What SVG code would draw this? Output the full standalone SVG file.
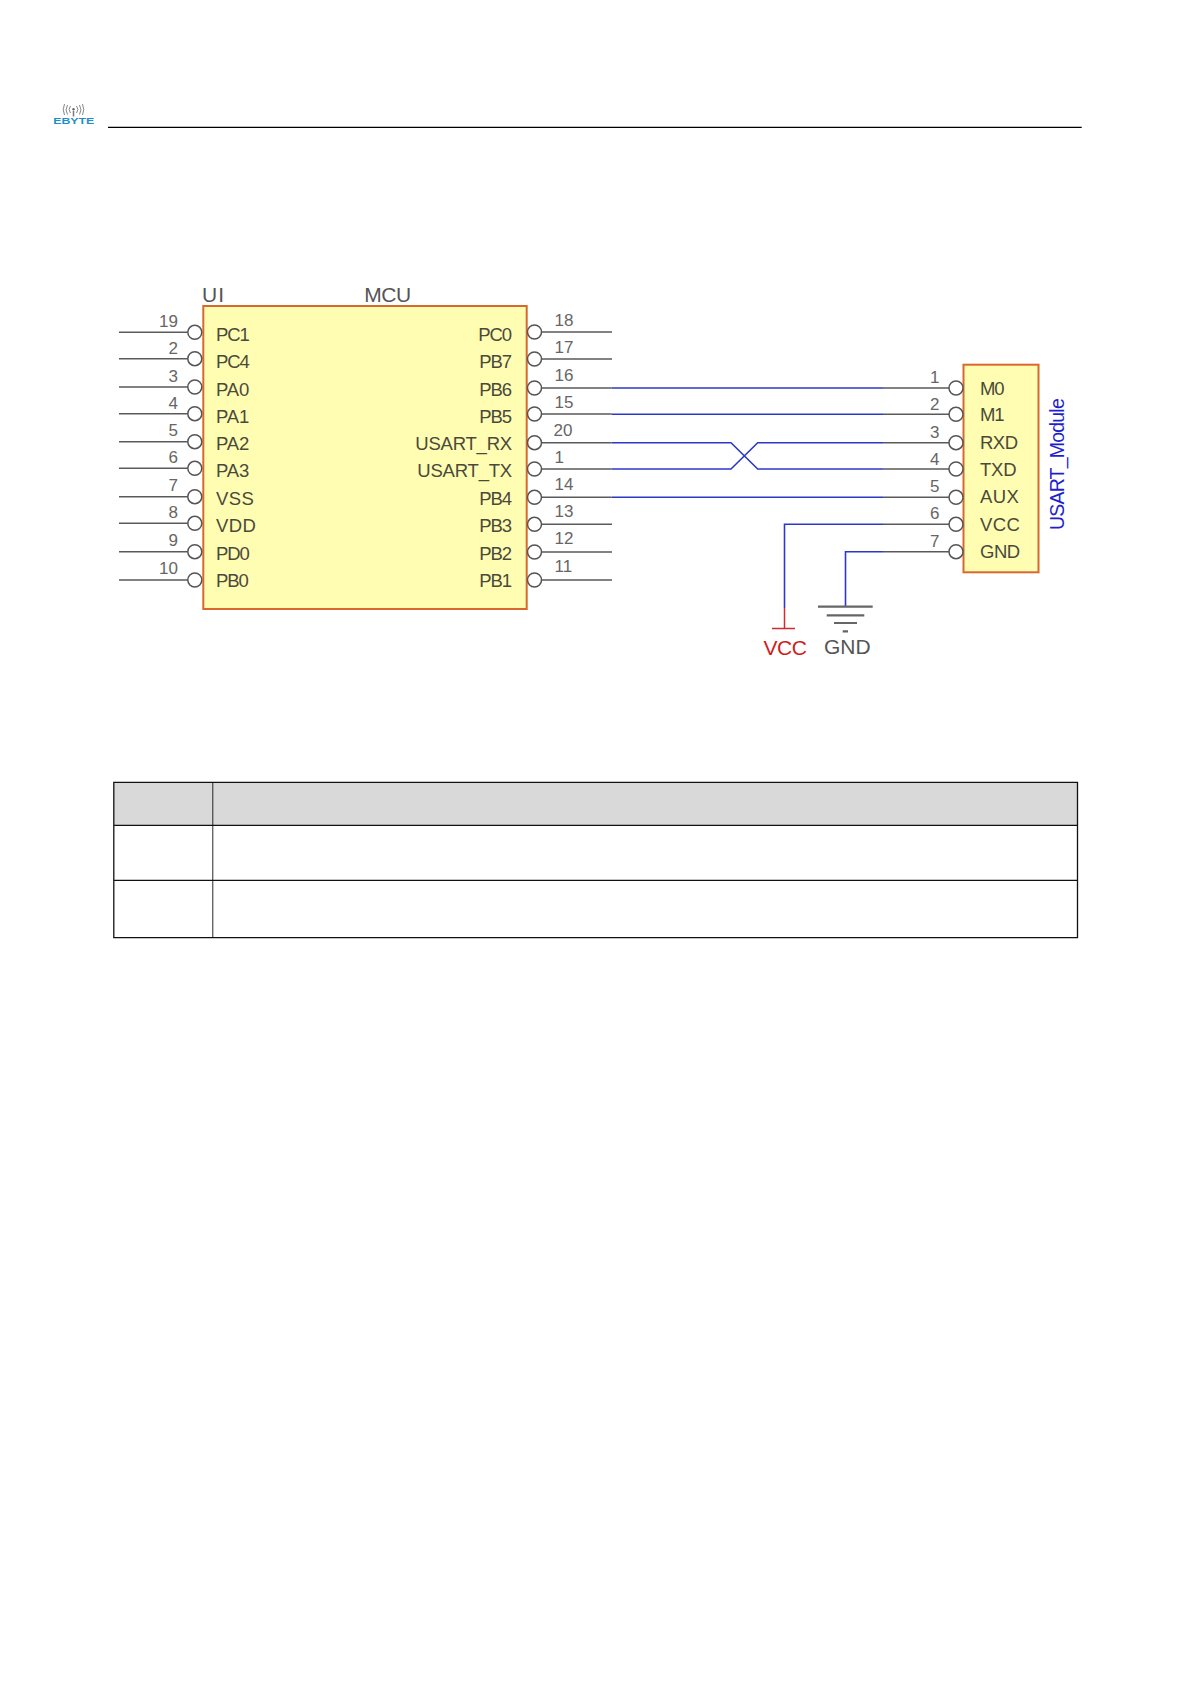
<svg xmlns="http://www.w3.org/2000/svg" width="1191" height="1684" viewBox="0 0 1191 1684">
<style>
text{font-family:"Liberation Sans",Arial,sans-serif}
.box{fill:#fffdb2;stroke:#d9682e;stroke-width:2}
.pin{fill:#fff;stroke:#555;stroke-width:1.5}
.grey{fill:none;stroke:#5a5a5a;stroke-width:1.6}
.gbar{fill:none;stroke:#666;stroke-width:2.200}
.blue{fill:none;stroke:#2c38c8;stroke-width:1.6}
.red{fill:none;stroke:#d42a2a;stroke-width:1.5}
.lab{font-size:18.500px;fill:#4a4a3c}
.labr{font-size:18.500px;fill:#4a4a3c;text-anchor:end}
.t{letter-spacing:-1.050px}
.n{letter-spacing:-.2px}
.w{letter-spacing:.4px}
.m{letter-spacing:-.5px}
.num{font-size:17px;fill:#666}
.numr{font-size:17px;fill:#666;text-anchor:end}
.title{font-size:21px;fill:#555}
.tb{fill:none;stroke:#111;stroke-width:1.300}
.tt{fill:none;stroke:#111;stroke-width:.9}
.wave{fill:none;stroke:#777;stroke-width:.9}
</style>
<rect width="1191" height="1684" fill="#fff"/>
<g id="header">
<g id="logo">
<path class="wave" d="M70.500 106a5.500 5.500 0 0 0 0 7M67.500 105a9 9 0 0 0 0 9.500M64.500 104a13 13 0 0 0 0 11M76.500 106a5.500 5.500 0 0 1 0 7M79.500 105a9 9 0 0 1 0 9.500M82.500 104a13 13 0 0 1 0 11"/>
<circle cx="73.500" cy="109.300" r="1.200" fill="#666"/>
<path d="M73.500 111v5.500" stroke="#777" stroke-width="1.500"/>
<text x="53.300" y="124.300" font-size="9.500" font-weight="700" fill="#1f8fc9" textLength="41" lengthAdjust="spacingAndGlyphs">EBYTE</text>
</g>
<path d="M108 127.400H1081.700" stroke="#000" stroke-width="1.200"/>
</g>
<g id="connectors">
<path class="grey" d="M119 332.300H188M119 358.700H188M119 387H188M119 413.700H188M119 441.700H188M119 468.300H188M119 496.700H188M119 523.300H188M119 551.700H188M119 580H188"/>
<path class="grey" d="M541 332H612M541 359H612M541 388H611.500M541 414H611.500M541 442.700H611.500M541 469H611.500M541 497.300H611.500M541 524.300H612M541 552H612M541 580H612"/>
<path class="grey" d="M883 388H949M883 414.300H949M883 442.700H949M883 469H949M883 497.300H949M883 524.300H949M883 551.700H949"/>
<path class="blue" d="M611.500 388H883M611.500 414.200H883M611.500 497.300H883"/>
<path class="blue" d="M611.500 442.700H731L757.700 469H883M611.500 469H731L757.700 442.700H883"/>
<path class="blue" d="M883 524.300H784.500V608M883 551.700H845.500V606"/>
</g>
<g id="mcu">
<rect class="box" x="203.300" y="306" width="323.400" height="303"/>
<text class="title" x="202" y="301.700" letter-spacing="1">UI</text>
<text class="title" x="364.300" y="301.700" letter-spacing="-.5">MCU</text>
<g class="pins">
<circle class="pin" cx="194.800" cy="332.300" r="7"/><circle class="pin" cx="194.800" cy="358.700" r="7"/><circle class="pin" cx="194.800" cy="387" r="7"/><circle class="pin" cx="194.800" cy="413.700" r="7"/><circle class="pin" cx="194.800" cy="441.700" r="7"/><circle class="pin" cx="194.800" cy="468.300" r="7"/><circle class="pin" cx="194.800" cy="496.700" r="7"/><circle class="pin" cx="194.800" cy="523.300" r="7"/><circle class="pin" cx="194.800" cy="551.700" r="7"/><circle class="pin" cx="194.800" cy="580" r="7"/>
<circle class="pin" cx="534.500" cy="332" r="7"/><circle class="pin" cx="534.500" cy="359" r="7"/><circle class="pin" cx="534.500" cy="388" r="7"/><circle class="pin" cx="534.500" cy="414" r="7"/><circle class="pin" cx="534.500" cy="442.700" r="7"/><circle class="pin" cx="534.500" cy="469" r="7"/><circle class="pin" cx="534.500" cy="497.300" r="7"/><circle class="pin" cx="534.500" cy="524.300" r="7"/><circle class="pin" cx="534.500" cy="552" r="7"/><circle class="pin" cx="534.500" cy="580" r="7"/>
</g>
<text class="numr" x="178" y="327">19</text><text class="numr" x="178" y="354">2</text><text class="numr" x="178" y="382">3</text><text class="numr" x="178" y="409">4</text><text class="numr" x="178" y="436">5</text><text class="numr" x="178" y="463">6</text><text class="numr" x="178" y="491">7</text><text class="numr" x="178" y="518">8</text><text class="numr" x="178" y="546">9</text><text class="numr" x="178" y="574">10</text>
<text class="num" x="554.500" y="326">18</text><text class="num" x="554.500" y="353">17</text><text class="num" x="554.500" y="381">16</text><text class="num" x="554.500" y="408">15</text><text class="num" x="553.500" y="436">20</text><text class="num" x="554.500" y="463">1</text><text class="num" x="554.500" y="490">14</text><text class="num" x="554.500" y="517">13</text><text class="num" x="554.500" y="544">12</text><text class="num" x="554.500" y="572">11</text>
<text class="lab t" x="216" y="340.700">PC1</text><text class="lab t" x="216" y="367.500">PC4</text><text class="lab n" x="216" y="396">PA0</text><text class="lab n" x="216" y="423">PA1</text><text class="lab n" x="216" y="450">PA2</text><text class="lab n" x="216" y="477">PA3</text><text class="lab w" x="216" y="505">VSS</text><text class="lab w" x="216" y="532">VDD</text><text class="lab t" x="216" y="559.500">PD0</text><text class="lab t" x="216" y="587">PB0</text>
<text class="labr t" x="511" y="340.700">PC0</text><text class="labr t" x="511" y="367.500">PB7</text><text class="labr t" x="511" y="396">PB6</text><text class="labr t" x="511" y="423">PB5</text><text class="labr n" x="512" y="450">USART_RX</text><text class="labr n" x="512" y="477">USART_TX</text><text class="labr t" x="511" y="505">PB4</text><text class="labr t" x="511" y="532">PB3</text><text class="labr t" x="511" y="559.500">PB2</text><text class="labr t" x="511" y="587">PB1</text>
</g>
<g id="usart_module">
<rect class="box" x="963.500" y="364.700" width="75" height="207.600"/>
<circle class="pin" cx="956" cy="388" r="7"/><circle class="pin" cx="956" cy="414.300" r="7"/><circle class="pin" cx="956" cy="442.700" r="7"/><circle class="pin" cx="956" cy="469" r="7"/><circle class="pin" cx="956" cy="497.300" r="7"/><circle class="pin" cx="956" cy="524.300" r="7"/><circle class="pin" cx="956" cy="551.700" r="7"/>
<text class="numr" x="939.500" y="383">1</text><text class="numr" x="939.500" y="409.500">2</text><text class="numr" x="939.500" y="437.500">3</text><text class="numr" x="939.500" y="465">4</text><text class="numr" x="939.500" y="492">5</text><text class="numr" x="939.500" y="519">6</text><text class="numr" x="939.500" y="546.500">7</text>
<text class="lab t" x="980" y="394.500">M0</text><text class="lab t" x="980" y="421">M1</text><text class="lab m" x="980" y="448.500">RXD</text><text class="lab n" x="980" y="475.500">TXD</text><text class="lab w" x="980" y="503">AUX</text><text class="lab w" x="980" y="530.500">VCC</text><text class="lab m" x="980" y="558">GND</text>
<text transform="translate(1064 530) rotate(-90)" font-size="19.500" fill="#1f1fd0" letter-spacing="-.8">USART_Module</text>
</g>
<g id="vcc">
<path class="red" d="M784.500 608V628.500M772 628.500H795"/>
<text x="763.500" y="655" font-size="21" fill="#d01c1c" letter-spacing="-.4">VCC</text>
</g>
<g id="gnd">
<path class="gbar" d="M818 606.700H872.700M826.700 615.300H864.300M834 623H857M842.700 631.300H848"/>
<text x="824" y="654" font-size="21" fill="#555">GND</text>
</g>
<g id="table">
<rect x="113.800" y="782.300" width="963.700" height="43" fill="#d9d9d9"/>
<path class="tb" d="M113.800 782.300H1077.500M113.800 825.300H1077.500M113.800 880.300H1077.500M113.800 937.700H1077.500M113.800 781.700V938.300M1077.500 781.700V938.300"/>
<path class="tt" d="M212.800 782.300V937.700"/>
</g>
</svg>
